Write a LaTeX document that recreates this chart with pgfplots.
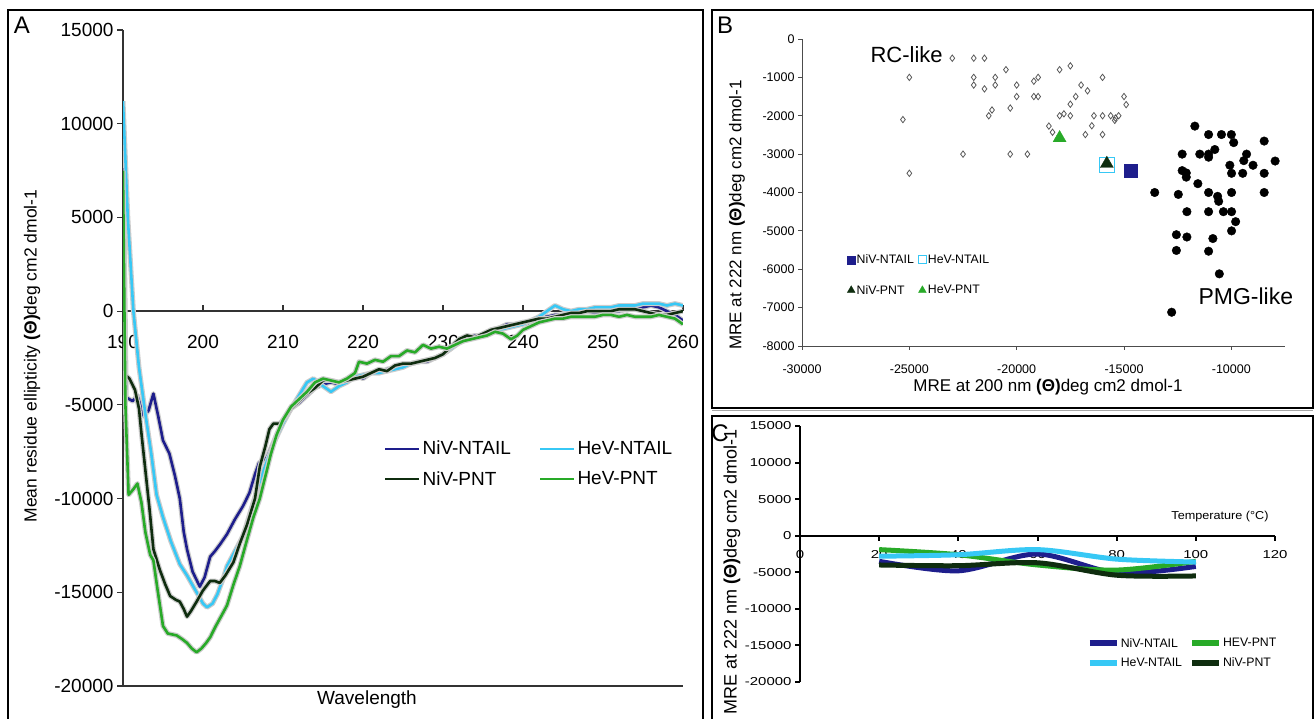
\documentclass[border=0pt]{standalone}
\usepackage{fontspec}
\setmainfont{Liberation Sans}
\newfontfamily\widef[FakeStretch=1.3]{Liberation Sans}
\newfontfamily\widet[FakeStretch=1.1]{Liberation Sans}
\usepackage{pgfplots}
\pgfplotsset{compat=1.18}
\definecolor{cNN}{RGB}{30,30,140}
\definecolor{cHN}{RGB}{55,200,245}
\definecolor{cNP}{RGB}{15,45,15}
\definecolor{cHP}{RGB}{40,170,40}
\newcommand{\fs}[1]{\fontsize{#1}{#1}\selectfont}
\tikzset{shadowline/.style={preaction={draw=black!20, line width=5pt}}}
\begin{document}
\begin{tikzpicture}[x=1pt,y=1pt]
\useasboundingbox (0,0) rectangle (1315,718);
\begin{scope}
\clip (0,0) rectangle (1315,718);
% frames
\draw[line width=2.5pt] (8,708) rectangle (703,-10);
\draw[line width=2.5pt] (712,708) rectangle (1313,310);
\draw[line width=2.5pt] (712,302) rectangle (1313,-10);
\draw[black!35, line width=1pt] (712,307) -- (1313,307);

% ---------------- Panel A ----------------
\begin{axis}[at={(123pt,32pt)}, anchor=south west, scale only axis,
  width=560pt, height=656pt,
  xmin=190, xmax=260, ymin=-20000, ymax=15000,
  axis y line*=left, axis x line*=middle,
  hide obscured x ticks=false, hide obscured y ticks=false,
  xtick={190,200,...,260}, ytick={-20000,-15000,...,15000},
  scaled ticks=false,
  /pgf/number format/assume math mode=true, /pgf/number format/1000 sep={},
  tick label style={font=\fs{19}},
  xticklabel style={yshift=-21pt},
  xtick align=inside, ytick align=outside, major tick length=6pt,
  axis line style={black!80, line width=1.3pt},
  tick style={black!80, line width=1.2pt},
  legend columns=2, legend cell align=left,
  legend style={at={(axis cs:222.6,-6820)}, anchor=north west, draw=none, fill=none,
    font=\fs{19}, inner sep=0pt, row sep=11pt,
    /tikz/every even column/.append style={column sep=26pt}},
  legend image code/.code={\draw[#1] plot coordinates {(0pt,0pt) (34pt,0pt)};},
  every axis plot/.append style={line width=2.6pt, line join=round},
]
\draw[black!80, line width=1.3pt] (axis cs:190,-20000) -- (axis cs:260,-20000);
\addplot[cNN, shadowline, forget plot] coordinates {
(190,9500) (190.4,-4600) (191.2,-4800) (191.8,-4500) (192.6,-5600) (193.2,-5300) (193.8,-4400) (194.4,-5600) (195.0,-6900) (195.8,-7600) (196.5,-8800) (197.1,-10000) (197.6,-11800) (198.0,-12700) (198.7,-13900) (199.6,-14700) (200.2,-14200) (200.9,-13100) (201.5,-12800) (202.2,-12400) (203.0,-11900) (204.0,-11100) (205.0,-10400) (205.8,-9700) (206.5,-8700) (207.0,-8100) (208.0,-7800) (208.6,-7200) (209.2,-6600) (210.0,-5900) (211.0,-5200) (212.0,-4900) (213.0,-4500) (214.0,-4100) (215.0,-3900) (216.0,-3800) (217.0,-3900) (218.0,-3600) (219.0,-3400) (220.0,-3600) (221.0,-3300) (222.0,-3300) (223.0,-3100) (224.0,-3000) (225.0,-2900) (226.0,-2800) (227.0,-2700) (228.0,-2700) (229.0,-2500) (230.0,-2300) (231.0,-2000) (232.0,-1500) (233.0,-1400) (234.0,-1300) (235.0,-1300) (236.0,-1000) (237.0,-900) (238.0,-700) (239.0,-700) (240.0,-600) (241.0,-800) (242.0,-300) (243.0,-300) (244.0,-200) (245.0,-200) (246.0,-100) (247.0,-100) (248.0,0) (249.0,-100) (250.0,-100) (251.0,0) (252.0,0) (253.0,100) (254.0,100) (255.0,200) (256.0,300) (257.0,200) (258.0,0) (259.0,-200) (260.0,-500)};
\addplot[cHN, shadowline, forget plot] coordinates {
(190,11200) (190.6,5000) (191.3,0) (192.0,-3000) (192.8,-5500) (193.5,-7500) (194.2,-9800) (195.0,-11000) (196.0,-12300) (197.1,-13500) (198.0,-14100) (199.2,-15000) (200.0,-15600) (200.5,-15800) (201.2,-15600) (201.8,-15100) (202.5,-14300) (203.0,-13600) (204.0,-12800) (205.0,-12000) (206.0,-10600) (207.0,-9200) (208.0,-8000) (209.0,-6900) (210.0,-6000) (211.0,-5200) (212.0,-4500) (213.0,-3800) (213.8,-3600) (215.0,-4000) (216.0,-4300) (217.0,-4000) (218.0,-3800) (219.0,-3500) (220.0,-3400) (221.0,-3300) (222.0,-3300) (223.0,-3200) (224.0,-3100) (225.0,-3000) (226.0,-2800) (227.0,-2700) (228.0,-2600) (229.0,-2500) (230.0,-2300) (231.0,-2000) (232.0,-1700) (233.0,-1500) (234.0,-1400) (235.0,-1300) (236.0,-1100) (237.0,-1000) (238.0,-900) (239.0,-800) (240.0,-700) (241.0,-500) (242.0,-300) (243.0,0) (244.0,300) (245.0,100) (246.0,0) (247.0,100) (248.0,100) (249.0,200) (250.0,200) (251.0,200) (252.0,300) (253.0,300) (254.0,300) (255.0,400) (256.0,400) (257.0,400) (258.0,300) (259.0,400) (260.0,300)};
\addplot[cNP, shadowline, forget plot] coordinates {
(190,6000) (190.3,-3400) (190.8,-3600) (191.5,-4200) (192.0,-5200) (192.3,-6500) (192.8,-8500) (193.3,-10500) (193.8,-12700) (194.6,-13800) (195.3,-14600) (195.9,-15200) (196.6,-15400) (197.1,-15500) (197.6,-15900) (198.0,-16300) (198.5,-16000) (199.2,-15500) (200.0,-14900) (200.9,-14400) (201.5,-14400) (202.1,-14500) (202.8,-14100) (203.8,-13400) (204.6,-12400) (205.5,-11400) (206.5,-10000) (207.1,-8300) (207.8,-7200) (208.3,-6300) (208.8,-6000) (209.6,-6000) (210.2,-5700) (211.0,-5200) (212.0,-4800) (213.0,-4400) (214.0,-4100) (215.0,-3700) (216.0,-3700) (217.0,-3800) (218.0,-3700) (219.0,-3600) (220.0,-3500) (221.0,-3300) (222.0,-3100) (223.0,-3200) (224.0,-2900) (225.0,-2800) (226.0,-2800) (227.0,-2700) (228.0,-2600) (229.0,-2500) (230.0,-2300) (231.0,-1900) (232.0,-1500) (233.0,-1300) (234.0,-1400) (235.0,-1200) (236.0,-1000) (237.0,-900) (238.0,-800) (239.0,-700) (240.0,-600) (241.0,-500) (242.0,-400) (243.0,-400) (244.0,-300) (245.0,-200) (246.0,-100) (247.0,-100) (248.0,0) (249.0,0) (250.0,0) (251.0,0) (252.0,100) (253.0,100) (254.0,100) (255.0,0) (256.0,-100) (257.0,-200) (258.0,-200) (259.0,-100) (260.0,0)};
\addplot[cHP, shadowline, forget plot] coordinates {
(190,7500) (190.3,-5000) (190.7,-9800) (191.3,-9500) (191.8,-9200) (192.3,-10200) (192.8,-11800) (193.4,-13000) (193.8,-13300) (194.3,-14800) (195.0,-16800) (195.6,-17200) (196.7,-17300) (197.4,-17500) (198.0,-17700) (198.6,-18000) (199.2,-18200) (199.8,-18000) (200.4,-17700) (200.9,-17400) (201.6,-16800) (202.5,-16100) (203.0,-15700) (203.8,-14600) (204.6,-13600) (205.5,-12200) (206.3,-11000) (207.1,-10000) (207.8,-8800) (208.5,-7600) (209.2,-6600) (210.0,-5800) (211.0,-5100) (212.0,-4700) (213.0,-4300) (214.0,-3800) (215.0,-3600) (216.0,-3700) (217.0,-3800) (218.0,-3600) (219.0,-3300) (219.5,-2700) (220.5,-2800) (221.5,-2600) (222.5,-2700) (223.5,-2400) (224.5,-2400) (225.5,-2100) (226.5,-2200) (227.5,-1800) (228.5,-2000) (229.5,-1900) (230.5,-2000) (231.5,-1800) (232.5,-1600) (233.5,-1500) (234.5,-1400) (235.5,-1300) (236.5,-1100) (237.5,-1200) (238.5,-1500) (239.3,-1300) (240.0,-1000) (241.0,-800) (242.0,-600) (243.0,-500) (244.0,-400) (245.0,-400) (246.0,-300) (247.0,-300) (248.0,-300) (249.0,-300) (250.0,-200) (251.0,-200) (252.0,-300) (253.0,-200) (254.0,-300) (255.0,-300) (256.0,-300) (257.0,-200) (258.0,-300) (259.0,-400) (260.0,-700)};
\addlegendimage{cNN, line width=2.6pt}
\addlegendentry{NiV-NTAIL}
\addlegendimage{cHN, line width=2.6pt}
\addlegendentry{HeV-NTAIL}
\addlegendimage{cNP, line width=2.6pt}
\addlegendentry{NiV-PNT}
\addlegendimage{cHP, line width=2.6pt}
\addlegendentry{HeV-PNT}
\end{axis}
\node[rotate=90, font=\fs{17.5}] at (32,362) {Mean residue ellipticity \textbf{(Θ)}deg cm2 dmol-1};
\node[font=\fs{19}] at (367,18) {Wavelength};
\node[font=\fs{24}] at (22,693) {A};

% ---------------- Panel B ----------------
\begin{axis}[at={(802pt,372pt)}, anchor=south west, scale only axis,
  width=483pt, height=307pt,
  xmin=-30000, xmax=-7500, ymin=-8000, ymax=0,
  axis x line*=bottom, axis y line*=left,
  xtick={-30000,-25000,...,-10000}, ytick={-8000,-7000,...,0},
  scaled ticks=false,
  /pgf/number format/assume math mode=true, /pgf/number format/1000 sep={},
  tick label style={font=\fs{12.5}},
  xticklabel style={yshift=-11pt},
  tick align=outside, major tick length=4pt,
  axis line style={black!70, line width=0.9pt},
  tick style={black!70, line width=0.8pt},
  clip=false,
  legend columns=2, legend cell align=left,
  legend style={at={(axis cs:-27950,-5550)}, anchor=north west, draw=none, fill=white,
    font=\fs{12.3}, inner sep=1pt, row sep=17pt,
    nodes={inner sep=1.5pt},
    /tikz/every even column/.append style={column sep=3pt}},
  legend image code/.code={\draw[#1] plot coordinates {(4pt,0pt)};},
]
\addplot[only marks, mark=diamond, mark size=3.2pt, mark options={draw=black!65, fill=white, line width=0.8pt}, forget plot] coordinates {
(-23000,-500) (-22000,-500) (-21500,-500) (-22000,-1000) (-22000,-1200) (-21500,-1300) (-21000,-1000) (-21000,-1200) (-20500,-800) (-21150,-1850) (-21300,-2000) (-20300,-1800) (-20000,-1200) (-20000,-1500) (-19200,-1100) (-19000,-1000) (-19200,-1500) (-19000,-1500) (-18000,-800) (-17500,-700) (-17000,-1200) (-16700,-1350) (-17250,-1500) (-17500,-1700) (-18000,-2000) (-17800,-1950) (-17500,-2000) (-18500,-2270) (-18330,-2430) (-16800,-2490) (-16500,-2260) (-16400,-2000) (-16000,-1000) (-16000,-2000) (-16000,-2490) (-15620,-2000) (-15400,-2060) (-15250,-2000) (-15000,-1500) (-14900,-1710) (-15430,-2120) (-25000,-1000) (-25300,-2100) (-25000,-3500) (-22500,-3000) (-20300,-3000) (-19500,-3000)};
\addplot[only marks, mark=*, mark size=4.3pt, mark options={draw=black, fill=black}, forget plot] coordinates {
(-13570,-4000) (-12780,-7120) (-12560,-5100) (-12560,-5510) (-12470,-4050) (-12290,-3000) (-12290,-3430) (-12100,-3490) (-12100,-3600) (-12070,-4500) (-12070,-5160) (-11700,-2270) (-11560,-3770) (-11470,-3000) (-11060,-3000) (-11060,-3080) (-11060,-2490) (-11060,-4000) (-11060,-4500) (-11060,-5530) (-10860,-5200) (-10770,-2880) (-10640,-4100) (-10590,-4230) (-10460,-2490) (-10370,-4500) (-10560,-6120) (-10000,-2490) (-9890,-2700) (-10070,-3290) (-9990,-3500) (-9990,-4000) (-9990,-4500) (-9990,-5000) (-9800,-4760) (-9470,-3500) (-9420,-3170) (-9290,-3000) (-8990,-3290) (-8470,-2660) (-8470,-3500) (-8470,-4000) (-7960,-3180)};
\addplot[only marks, mark=square*, mark size=6.5pt, mark options={draw=cNN, fill=cNN}, forget plot] coordinates {(-14670,-3440)};
\addplot[only marks, mark=square, mark size=7.5pt, mark options={draw=cHN, fill=white, line width=1.3pt}, forget plot] coordinates {(-15800,-3290)};
\addplot[only marks, mark=triangle*, mark size=7.5pt, mark options={draw=cNP, fill=cNP}, forget plot] coordinates {(-15800,-3250)};
\addplot[only marks, mark=triangle*, mark size=7.5pt, mark options={draw=cHP, fill=cHP}, forget plot] coordinates {(-18000,-2580)};
\addlegendimage{only marks, mark=square*, mark size=4pt, mark options={draw=cNN, fill=cNN}}
\addlegendentry{NiV-NTAIL}
\addlegendimage{only marks, mark=square, mark size=4pt, mark options={draw=cHN, fill=white, line width=1.1pt}}
\addlegendentry{HeV-NTAIL}
\addlegendimage{only marks, mark=triangle*, mark size=4.5pt, mark options={draw=cNP, fill=cNP}}
\addlegendentry{NiV-PNT}
\addlegendimage{only marks, mark=triangle*, mark size=4.5pt, mark options={draw=cHP, fill=cHP}}
\addlegendentry{HeV-PNT}
\end{axis}
\node[font=\fs{17}] at (1048,331) {MRE at 200 nm \textbf{(Θ)}deg cm2 dmol-1};
\node[rotate=90, font=\fs{17}] at (737,503) {MRE at 222 nm \textbf{(Θ)}deg cm2 dmol-1};
\node[font=\fs{22}, anchor=west] at (867,663) {RC-like};
\node[font=\fs{23}, anchor=west] at (1195,422) {PMG-like};
\node[font=\fs{24}] at (725,693) {B};

% ---------------- Panel C ----------------
\begin{axis}[at={(800pt,36pt)}, anchor=south west, scale only axis,
  width=475pt, height=256pt,
  xmin=0, xmax=120, ymin=-20000, ymax=15000,
  axis x line*=middle, axis y line*=left,
  hide obscured x ticks=false, hide obscured y ticks=false,
  xtick={0,20,...,120}, ytick={-20000,-15000,...,15000},
  scaled ticks=false,
  /pgf/number format/assume math mode=true, /pgf/number format/1000 sep={},
  tick label style={font=\widef\fs{11.5}},
  xticklabel style={yshift=-6pt},
  xtick align=outside, ytick align=outside, major tick length=5pt,
  axis line style={black, line width=2.4pt},
  tick style={black, line width=2pt},
  legend columns=2, legend cell align=left,
  legend style={at={(axis cs:72.4,-13850)}, anchor=north west, draw=none, fill=none,
    font=\fs{12.3}, inner sep=0pt, row sep=7pt,
    nodes={inner sep=1pt},
    /tikz/every even column/.append style={column sep=6pt}},
  legend image code/.code={\draw[#1, line width=6pt] plot coordinates {(0pt,0pt) (27pt,0pt)};},
  every axis plot/.append style={line width=5pt, smooth, line join=round},
]
\addplot[cNN] coordinates {(20,-3500) (40,-4800) (60,-2500) (80,-5100) (100,-4200)};
\addlegendentry{NiV-NTAIL}
\addplot[cHP] coordinates {(20,-1900) (40,-2600) (60,-4000) (80,-4700) (100,-3500)};
\addlegendentry{HEV-PNT}
\addplot[cHN] coordinates {(20,-2800) (40,-2600) (60,-1900) (80,-3200) (100,-3600)};
\addlegendentry{HeV-NTAIL}
\addplot[cNP] coordinates {(20,-4000) (40,-4100) (60,-3700) (80,-5400) (100,-5500)};
\addlegendentry{NiV-PNT}
\end{axis}
\node[font=\widet\fs{11.5}] at (1220,201) {Temperature (°C)};
\node[rotate=90, font=\fs{18}] at (732,146) {MRE at 222 nm \textbf{(Θ)}deg cm2 dmol-1};
\node[font=\fs{24}] at (720,285) {C};
\end{scope}
\end{tikzpicture}
\end{document}
